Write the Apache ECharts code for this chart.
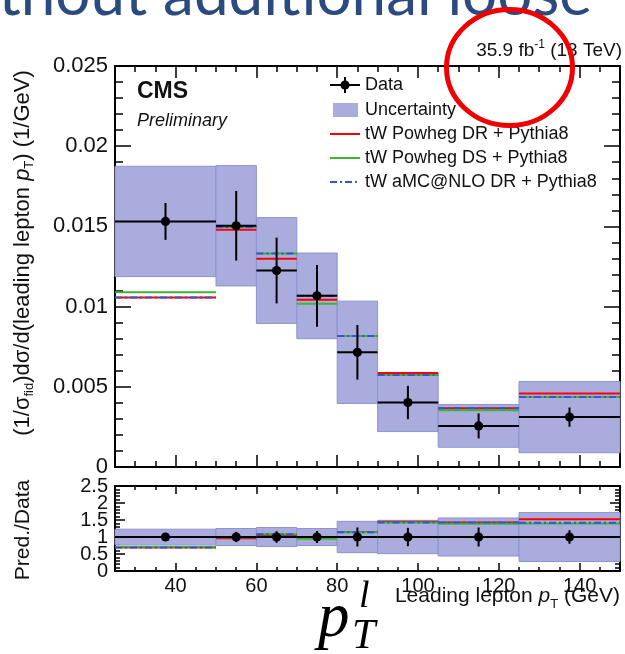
<!DOCTYPE html>
<html><head><meta charset="utf-8">
<script src="https://cdn.jsdelivr.net/npm/echarts@6/dist/echarts.min.js"></script>
<style>html,body{margin:0;padding:0;background:#fff}#c{width:625px;height:654px}</style>
</head><body><div id="c"></div>
<script>
// ---- data ----
const binEdges   = [25, 50, 60, 70, 80, 90, 105, 125, 150];
const binCenters = [37.5, 55, 65, 75, 85, 97.5, 115, 137.5];
const dataVal  = [0.01531, 0.01504, 0.01225, 0.01067, 0.00715, 0.00402, 0.00256, 0.00311];
const dataErr  = [0.00115, 0.00217, 0.00205, 0.00193, 0.00170, 0.00104, 0.00078, 0.00060];
const uncHalf  = [0.00344, 0.00375, 0.00330, 0.00267, 0.00319, 0.00181, 0.00133, 0.00222];
const powhegDR = [0.01056, 0.01479, 0.01298, 0.01042, 0.00817, 0.00586, 0.00367, 0.00459];
const powhegDS = [0.01090, 0.01496, 0.01331, 0.01017, 0.00817, 0.00573, 0.00354, 0.00436];
const amcDR    = [0.01056, 0.01496, 0.01331, 0.01067, 0.00817, 0.00573, 0.00367, 0.00436];
const ratioUnc     = [0.23, 0.25, 0.28, 0.25, 0.46, 0.49, 0.56, 0.72];
const ratioDataErr = [0.075, 0.15, 0.17, 0.18, 0.28, 0.27, 0.28, 0.20];
const ratioDR  = [0.69, 0.96, 1.06, 0.98, 1.15, 1.45, 1.43, 1.52];
const ratioDS  = [0.71, 0.99, 1.08, 0.95, 1.14, 1.43, 1.39, 1.40];
const ratioAMC = [0.69, 0.99, 1.08, 1.00, 1.14, 1.43, 1.43, 1.42];
const xTickLabels = [40, 60, 80, 100, 120, 140];
const ratioLabelsA = [0, 1, 2];
const ratioLabelsB = [0.5, 1.5, 2.5];

const C_RED = '#ff0000', C_GREEN = '#3fb52f', C_BLUE = '#3158d0';
const BOX_FILL = '#a9acdc', BOX_EDGE = '#8f93cf';
const SANS = '"Liberation Sans", Arial, sans-serif';

// ---- text helpers ----
const mctx = document.createElement('canvas').getContext('2d');
function tw(t, font) { mctx.font = font; return mctx.measureText(t).width; }
function runs(segs, x, y, align) {
  const total = segs.reduce((s, g) => s + tw(g.t, g.font), 0);
  let cx = align === 'right' ? x - total : (align === 'center' ? x - total / 2 : x);
  return segs.map(g => {
    const el = { type: 'text', x: cx, y: y + (g.dy || 0), z: 100,
      style: { text: g.t, font: g.font, fill: g.fill || '#111', align: 'left', verticalAlign: 'middle' } };
    cx += tw(g.t, g.font);
    return el;
  });
}
const f = (s, extra) => (extra ? extra + ' ' : '') + s + 'px ' + SANS;

// ---- series data ----
const mainBox = dataVal.map((v, i) => [binEdges[i], binEdges[i + 1], v - uncHalf[i], v + uncHalf[i]]);
const mainPts = dataVal.map((v, i) => [binCenters[i], binEdges[i], binEdges[i + 1], v, dataErr[i]]);
const steps = arr => arr.map((v, i) => [binEdges[i], binEdges[i + 1], v]);
const ratioBox = ratioUnc.map((u, i) => [binEdges[i], binEdges[i + 1], 1 - u, 1 + u]);
const ratioPts = binCenters.map((c, i) => [c, binEdges[i], binEdges[i + 1], 1, ratioDataErr[i]]);

function boxItem(params, api) {
  const a = api.coord([api.value(0), api.value(3)]);
  const b = api.coord([api.value(1), api.value(2)]);
  return { type: 'rect', shape: { x: a[0], y: a[1], width: b[0] - a[0], height: b[1] - a[1] },
    style: { fill: BOX_FILL, stroke: BOX_EDGE, lineWidth: 1 } };
}
function lineItem(color, dash) {
  return function (params, api) {
    const a = api.coord([api.value(0), api.value(2)]);
    const b = api.coord([api.value(1), api.value(2)]);
    return { type: 'line', shape: { x1: a[0], y1: a[1], x2: b[0], y2: b[1] },
      style: { stroke: color, lineWidth: 2, lineDash: dash || null } };
  };
}
function ptItem(params, api) {
  const xc = api.value(0), x0 = api.value(1), x1 = api.value(2), y = api.value(3), e = api.value(4);
  const pL = api.coord([x0, y]), pR = api.coord([x1, y]), pc = api.coord([xc, y]);
  const pT = api.coord([xc, y + e]), pB = api.coord([xc, y - e]);
  return { type: 'group', children: [
    { type: 'line', shape: { x1: pL[0], y1: pL[1], x2: pR[0], y2: pR[1] }, style: { stroke: '#000', lineWidth: 2 } },
    { type: 'line', shape: { x1: pT[0], y1: pT[1], x2: pB[0], y2: pB[1] }, style: { stroke: '#000', lineWidth: 2 } },
    { type: 'circle', shape: { cx: pc[0], cy: pc[1], r: 4.6 }, style: { fill: '#000' } }
  ] };
}

// ---- axes ----
const tickStyle = { color: '#000', width: 1.5 };
function xAx(grid, pos, major, len, withLabels, withLine) {
  const ax = { type: 'value', gridIndex: grid, position: pos, min: 25, max: 150, interval: 5,
    axisLine: { show: !!withLine, onZero: false, lineStyle: { color: '#000', width: 2 } },
    axisTick: { show: true, inside: true, length: len, lineStyle: tickStyle },
    axisLabel: { show: false }, splitLine: { show: false } };
  if (major) ax.axisTick.customValues = xTickLabels;
  if (withLabels) ax.axisLabel = { show: true, customValues: xTickLabels, margin: 5, fontSize: 20, fontFamily: SANS, color: '#111' };
  return ax;
}
function yAx(grid, pos, min, max, interval, len, mlen, labels, fs, custom) {
  const ax = { type: 'value', gridIndex: grid, position: pos, min: min, max: max, interval: interval,
    axisLine: { show: true, onZero: false, lineStyle: { color: '#000', width: 2 } },
    axisTick: { show: true, inside: true, length: len, lineStyle: tickStyle },
    minorTick: { show: true, splitNumber: 5, length: mlen, lineStyle: tickStyle },
    axisLabel: labels ? { show: true, margin: 7, fontSize: fs, fontFamily: SANS, color: '#111',
      showMinLabel: true, showMaxLabel: true, hideOverlap: false } : { show: false },
    splitLine: { show: false } };
  if (labels && custom) ax.axisLabel.customValues = custom;
  return ax;
}

// ---- graphics: texts, legend, annotations ----
const graphics = [];
// slide title fragment (cut at top)
graphics.push({ type: 'text', x: 592, y: -5, z: 100, style: { text: 'without additional loose',
  font: '62px Lato, "Open Sans", sans-serif', fill: '#2a4a80', align: 'right', verticalAlign: 'middle' } });
// luminosity label
runs([{ t: '35.9 fb', font: f(19) }, { t: '-1', font: f(12), dy: -6 }, { t: ' (13 TeV)', font: f(19) }], 622, 51, 'right')
  .forEach(e => graphics.push(e));
// CMS / Preliminary
graphics.push({ type: 'text', x: 137, y: 92, z: 100, style: { text: 'CMS', font: f(23, 'bold'), fill: '#111', verticalAlign: 'middle' } });
graphics.push({ type: 'text', x: 137, y: 121, z: 100, style: { text: 'Preliminary', font: f(18, 'italic'), fill: '#111', verticalAlign: 'middle' } });
// legend
const lgX0 = 330, lgX1 = 360, lgT = 365;
const lgRows = [85, 110, 134, 158, 182];
graphics.push({ type: 'line', z: 100, shape: { x1: lgX0, y1: lgRows[0], x2: lgX1, y2: lgRows[0] }, style: { stroke: '#000', lineWidth: 2 } });
graphics.push({ type: 'line', z: 100, shape: { x1: 345, y1: lgRows[0] - 8, x2: 345, y2: lgRows[0] + 8 }, style: { stroke: '#000', lineWidth: 2 } });
graphics.push({ type: 'circle', z: 100, shape: { cx: 345, cy: lgRows[0], r: 4.6 }, style: { fill: '#000' } });
graphics.push({ type: 'rect', z: 100, shape: { x: 333, y: lgRows[1] - 7, width: 25, height: 14 }, style: { fill: BOX_FILL } });
graphics.push({ type: 'line', z: 100, shape: { x1: lgX0, y1: lgRows[2], x2: lgX1, y2: lgRows[2] }, style: { stroke: C_RED, lineWidth: 2 } });
graphics.push({ type: 'line', z: 100, shape: { x1: lgX0, y1: lgRows[3], x2: lgX1, y2: lgRows[3] }, style: { stroke: C_GREEN, lineWidth: 2 } });
graphics.push({ type: 'line', z: 100, shape: { x1: lgX0, y1: lgRows[4], x2: lgX1, y2: lgRows[4] }, style: { stroke: C_BLUE, lineWidth: 2, lineDash: [7, 3, 2, 3] } });
const lgLabels = ['Data', 'Uncertainty', 'tW Powheg DR + Pythia8', 'tW Powheg DS + Pythia8', 'tW aMC@NLO DR + Pythia8'];
lgLabels.forEach((t, i) => graphics.push({ type: 'text', x: lgT, y: lgRows[i], z: 100,
  style: { text: t, font: f(18), fill: '#111', verticalAlign: 'middle' } }));
// y-axis title (rotated)
graphics.push({ type: 'group', x: 23, y: 253, rotation: Math.PI / 2, z: 100, children: runs([
  { t: '(1/σ', font: f(22) }, { t: 'fid', font: f(13), dy: 6 }, { t: ')dσ/d(leading lepton ', font: f(22) },
  { t: 'p', font: f(22, 'italic') }, { t: 'T', font: f(13), dy: 6 }, { t: ') (1/GeV)', font: f(22) }
], 0, 0, 'center') });
graphics.push({ type: 'group', x: 23, y: 530, rotation: Math.PI / 2, z: 100, children: runs([
  { t: 'Pred./Data', font: f(21) }], 0, 0, 'center') });
// x-axis title
runs([{ t: 'Leading lepton ', font: f(21) }, { t: 'p', font: f(21, 'italic') }, { t: 'T', font: f(13), dy: 8 },
  { t: ' (GeV)', font: f(21) }], 620, 596, 'right').forEach(e => graphics.push(e));
// big math p_T^l
const SERIF = '"Liberation Serif", "DejaVu Serif", serif';
graphics.push({ type: 'text', x: 318, y: 619, z: 100, style: { text: 'p', font: 'italic 63px ' + SERIF, fill: '#000', verticalAlign: 'middle' } });
graphics.push({ type: 'text', x: 359, y: 597, z: 100, style: { text: 'l', font: 'italic 38px ' + SERIF, fill: '#000', verticalAlign: 'middle' } });
graphics.push({ type: 'text', x: 352, y: 637, z: 100, style: { text: 'T', font: 'italic 42px ' + SERIF, fill: '#000', verticalAlign: 'middle' } });
// red annotation circle
graphics.push({ type: 'ellipse', z: 120, shape: { cx: 509.5, cy: 67.5, rx: 63, ry: 58 },
  style: { fill: 'none', stroke: '#f00000', lineWidth: 5 } });

const ratioLabelAxisB = { type: 'value', gridIndex: 1, position: 'left', min: 0, max: 2.5, interval: 0.5,
  axisLine: { show: false, onZero: false }, axisTick: { show: false }, splitLine: { show: false },
  axisLabel: { show: true, customValues: ratioLabelsB, margin: 7, fontSize: 20, fontFamily: SANS, color: '#111',
    showMinLabel: true, showMaxLabel: true, hideOverlap: false } };

const option = {
  animation: false,
  backgroundColor: '#fff',
  grid: [
    { left: 115, top: 66, width: 505, height: 401, containLabel: false, outerBoundsMode: 'none' },
    { left: 115, top: 486, width: 505, height: 85, containLabel: false, outerBoundsMode: 'none' }
  ],
  xAxis: [
    xAx(0, 'bottom', true, 12, false, true),
    xAx(0, 'bottom', false, 6, false, false),
    xAx(0, 'top', true, 12, false, true),
    xAx(0, 'top', false, 6, false, false),
    xAx(1, 'bottom', true, 8, true, true),
    xAx(1, 'bottom', false, 4, false, false),
    xAx(1, 'top', true, 8, false, true),
    xAx(1, 'top', false, 4, false, false)
  ],
  yAxis: [
    yAx(0, 'left', 0, 0.025, 0.005, 16, 8, true, 22),
    yAx(0, 'right', 0, 0.025, 0.005, 16, 8, false),
    yAx(1, 'left', 0, 2.5, 0.5, 10, 5, true, 20, ratioLabelsA),
    yAx(1, 'right', 0, 2.5, 0.5, 10, 5, false),
    ratioLabelAxisB
  ],
  series: [
    { type: 'custom', name: 'Uncertainty', xAxisIndex: 0, yAxisIndex: 0, renderItem: boxItem, data: mainBox, z: 1 },
    { type: 'custom', name: 'tW Powheg DR + Pythia8', xAxisIndex: 0, yAxisIndex: 0, renderItem: lineItem(C_RED), data: steps(powhegDR), z: 2 },
    { type: 'custom', name: 'tW Powheg DS + Pythia8', xAxisIndex: 0, yAxisIndex: 0, renderItem: lineItem(C_GREEN), data: steps(powhegDS), z: 3 },
    { type: 'custom', name: 'tW aMC@NLO DR + Pythia8', xAxisIndex: 0, yAxisIndex: 0, renderItem: lineItem(C_BLUE, [7, 3, 2, 3]), data: steps(amcDR), z: 4 },
    { type: 'custom', name: 'Data', xAxisIndex: 0, yAxisIndex: 0, renderItem: ptItem, data: mainPts, z: 5 },
    { type: 'custom', name: 'Uncertainty ratio', xAxisIndex: 4, yAxisIndex: 2, renderItem: boxItem, data: ratioBox, z: 1 },
    { type: 'custom', name: 'DR ratio', xAxisIndex: 4, yAxisIndex: 2, renderItem: lineItem(C_RED), data: steps(ratioDR), z: 2 },
    { type: 'custom', name: 'DS ratio', xAxisIndex: 4, yAxisIndex: 2, renderItem: lineItem(C_GREEN), data: steps(ratioDS), z: 3 },
    { type: 'custom', name: 'aMC ratio', xAxisIndex: 4, yAxisIndex: 2, renderItem: lineItem(C_BLUE, [7, 3, 2, 3]), data: steps(ratioAMC), z: 4 },
    { type: 'custom', name: 'Data ratio', xAxisIndex: 4, yAxisIndex: 2, renderItem: ptItem, data: ratioPts, z: 5 }
  ],
  graphic: { elements: graphics }
};
const chart = echarts.init(document.getElementById('c'));
chart.setOption(option);
</script>
</body></html>
